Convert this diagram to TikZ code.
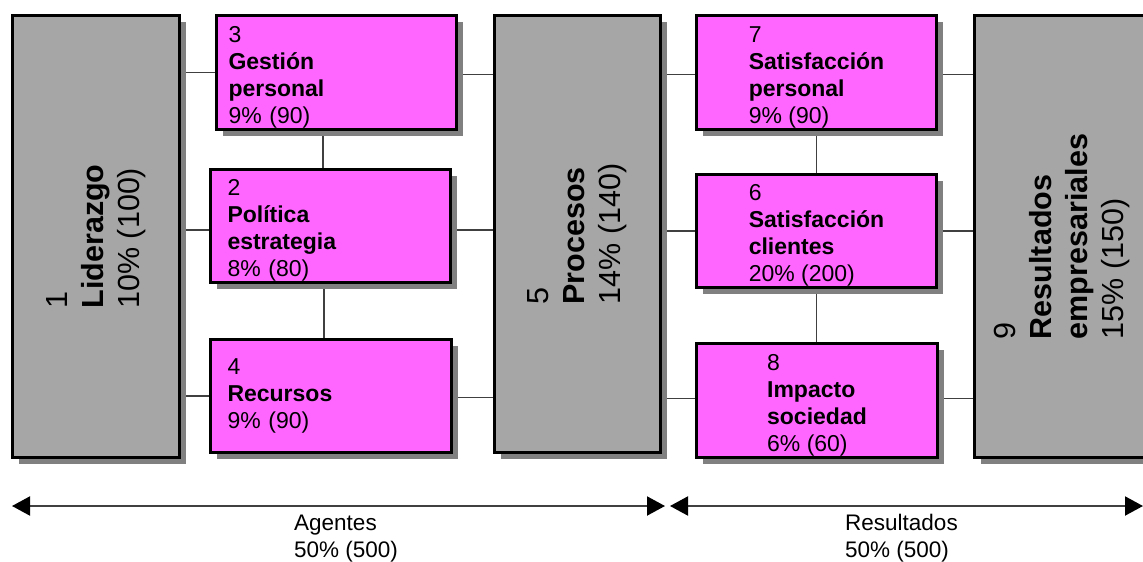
\documentclass[tikz,border=0pt]{standalone}
\usepackage{fontspec}
\setmainfont{Liberation Sans}
\usetikzlibrary{arrows.meta,shadows}
\definecolor{pinkfill}{HTML}{FF66FF}
\definecolor{grayfill}{HTML}{A6A6A6}
\definecolor{shadowgray}{HTML}{808080}
\definecolor{linegray}{HTML}{404040}
\pgfdeclarelayer{bg}
\pgfsetlayers{bg,main}
\newcommand\toppad{\rule{0pt}{25pt}}
\begin{document}
\begin{tikzpicture}[x=1pt,y=1pt,
  box/.style={draw=black, line width=2.6pt, inner sep=0pt,
    general shadow={fill=shadowgray, shadow xshift=6pt, shadow yshift=-6pt}},
  pinkbox/.style={box, fill=pinkfill, font=\fontsize{23}{27}\selectfont, align=left},
  graybox/.style={box, fill=grayfill},
  rotlabel/.style={rotate=90, align=left, font=\fontsize{30.5}{36}\selectfont, inner sep=0pt},
  conn/.style={draw=linegray, line width=1.5pt},
  spanarrow/.style={line width=2pt, draw=linegray,
    {Triangle[length=18pt,width=19pt,color=black]}-{Triangle[length=18pt,width=19pt,color=black]}},
  spanlabel/.style={font=\fontsize{22.5}{27}\selectfont, align=left, inner sep=0pt, anchor=west}
]
\useasboundingbox (0,0) rectangle (1143,-562);
\clip (0,0) rectangle (1143,-562);

% gray boxes
\node[graybox, minimum width=167pt, minimum height=442pt] (b1) at (96,-236.5) {};
\node[rotlabel] (t1) at (b1) {1\\\textbf{Liderazgo}\\10\% (100)};
\node[graybox, minimum width=166pt, minimum height=437pt] (b5) at (577.5,-234) {};
\node[rotlabel] (t5) at (b5) {5\\\textbf{Procesos}\\14\% (140)};
\node[graybox, minimum width=175pt, minimum height=442pt] (b9) at (1062,-236.5) {};
\node[rotlabel] (t9) at (b9) {9\\\textbf{Resultados}\\\textbf{empresariales}\\15\% (150)};

% pink boxes, left column
\node[pinkbox, text width=216pt, inner xsep=12pt, minimum height=114pt] (b3) at (336.5,-72.5)
  {\toppad 3\\\textbf{Gestión}\\\textbf{personal}\\9\% (90)};
\node[pinkbox, text width=206pt, inner xsep=17pt, minimum height=113pt] (b2) at (330.5,-226)
  {\toppad 2\\\textbf{Política}\\\textbf{estrategia}\\8\% (80)};
\node[pinkbox, text width=207pt, inner xsep=17pt, minimum height=113pt] (b4) at (331,-396)
  {4\\\textbf{Recursos}\\9\% (90)};

% pink boxes, right column
\node[pinkbox, minimum width=240pt, minimum height=114pt] (b7) at (816.5,-72.5)
  {\toppad 7\\\textbf{Satisfacción}\\\textbf{personal}\\9\% (90)};
\node[pinkbox, minimum width=240pt, minimum height=113pt] (b6) at (816.5,-231)
  {\toppad 6\\\textbf{Satisfacción}\\\textbf{clientes}\\20\% (200)};
\node[pinkbox, minimum width=241pt, minimum height=114pt] (b8) at (817,-400.5)
  {\toppad 8\\\textbf{Impacto}\\\textbf{sociedad}\\6\% (60)};

% connectors
\begin{pgfonlayer}{bg}
\draw[conn] (b1.east |- b3.west) -- (b3.west);
\draw[conn] ([yshift=-4pt]b2.west -| b1.east) -- ([yshift=-4pt]b2.west);
\draw[conn] (b1.east |- b4.west) -- (b4.west);
\draw[conn] ([yshift=-2pt]b3.east) -- ([yshift=-2pt]b3.east -| b5.west);
\draw[conn] ([yshift=-4pt]b2.east) -- ([yshift=-4pt]b2.east -| b5.west);
\draw[conn] ([yshift=-1.5pt]b4.east) -- ([yshift=-1.5pt]b4.east -| b5.west);
\draw[conn] ([yshift=-2pt]b7.west -| b5.east) -- ([yshift=-2pt]b7.west);
\draw[conn] (b5.east |- b6.west) -- (b6.west);
\draw[conn] ([yshift=2pt]b8.west -| b5.east) -- ([yshift=2pt]b8.west);
\draw[conn] ([yshift=-2pt]b7.east) -- ([yshift=-2pt]b7.east -| b9.west);
\draw[conn] (b6.east) -- (b6.east -| b9.west);
\draw[conn] ([yshift=2pt]b8.east) -- ([yshift=2pt]b8.east -| b9.west);
\draw[conn] ([xshift=-13.5pt]b3.south) -- ([xshift=-13.5pt]b3.south |- b2.north);
\draw[conn] ([xshift=-6.5pt]b2.south) -- ([xshift=-6.5pt]b2.south |- b4.north);
\draw[conn] (b7.south) -- (b6.north);
\draw[conn] (b6.south) -- (b6.south |- b8.north);
\end{pgfonlayer}

% span arrows
\coordinate (aL) at (12,-506);
\coordinate (aM1) at (665,-506);
\coordinate (aM2) at (670,-506);
\coordinate (aR) at (1143,-506);
\draw[spanarrow] (aL) -- (aM1);
\draw[spanarrow] (aM2) -- (aR);

\node[spanlabel] (lA) at (294,-538.5) {Agentes\\50\% (500)};
\node[spanlabel] (lR) at (845,-538.5) {Resultados\\50\% (500)};
\end{tikzpicture}
\end{document}
